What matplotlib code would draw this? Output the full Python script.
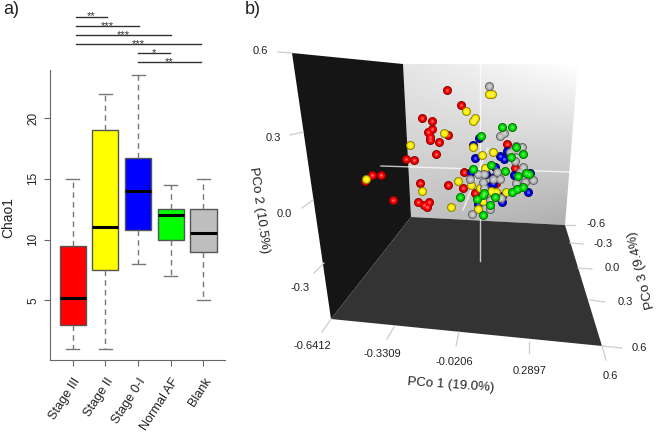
import numpy as np
import matplotlib
matplotlib.use("Agg")
import matplotlib.pyplot as plt
from matplotlib.patches import Polygon

plt.rcParams['font.family'] = ['Liberation Sans', 'DejaVu Sans']

# panel a, boxplot
groups = ["Stage III", "Stage II", "Stage 0-I", "Normal AF", "Blank"]
box_colors = ["#ff0000", "#ffff00", "#0000ff", "#00ff00", "#bebebe"]
whisker_lo = [1, 1, 8, 7, 5]
q1 = [3, 7.5, 10.75, 10, 9]
medians = [5.2, 11, 14, 12, 10.5]
q3 = [9.5, 19, 16.75, 12.5, 12.5]
whisker_hi = [15, 22, 23.5, 14.5, 15]

bracket_x0 = [1.1, 1.1, 1.1, 1.1, 3.0, 3.0]
bracket_x1 = [2.05, 3.03, 4.0, 4.93, 3.97, 4.93]
bracket_y = [28.34, 27.58, 26.8, 26.1, 25.35, 24.6]
bracket_stars = ["**", "***", "***", "***", "*", "**"]

# panel b, points as they sit on the screen (the 3d view is already projected)
red_x = [447, 461, 422, 432, 432, 428, 430, 430, 439, 448, 436, 406, 414, 372, 381, 365, 420, 448, 463, 393, 418, 429, 424, 427, 464, 475, 507, 515, 496]
red_y = [90, 105, 118, 121, 129, 132, 137, 140, 142, 135, 154, 159, 160, 175, 175, 181, 183, 185, 188, 200, 202, 202, 205, 207, 172, 193, 144, 168, 183]
yellow_x = [466, 475, 473, 444, 410, 473, 493, 482, 485, 458, 471, 422, 480, 491, 506, 451, 478, 483, 366, 489, 492, 496]
yellow_y = [111, 118, 121, 133, 145, 147, 152, 155, 168, 181, 185, 191, 188, 191, 192, 207, 209, 201, 179, 94, 94, 192]
green_x = [502, 512, 481, 516, 523, 511, 491, 473, 505, 518, 526, 529, 523, 517, 512, 495, 483, 477, 460, 490, 483, 484]
green_y = [127, 127, 136, 147, 154, 157, 165, 169, 171, 176, 173, 174, 187, 189, 192, 197, 195, 199, 197, 205, 215, 193]
blue_x = [479, 473, 475, 500, 504, 507, 495, 471, 486, 494, 514, 530, 486, 493, 528, 502, 502, 478, 500]
blue_y = [138, 145, 158, 156, 159, 151, 167, 172, 174, 177, 175, 173, 186, 183, 192, 202, 196, 204, 198]
gray_x = [489, 504, 500, 510, 516, 522, 518, 515, 523, 520, 478, 484, 497, 500, 493, 470, 533, 525, 516, 483, 490, 501, 490, 472, 513, 484]
gray_y = [86, 133, 136, 152, 146, 147, 150, 161, 167, 172, 174, 174, 172, 179, 179, 179, 180, 182, 183, 182, 200, 198, 209, 214, 150, 188]

fig = plt.figure(figsize=(6.6, 4.36), dpi=100)
ax = fig.add_axes([49.5 / 660, 76.5 / 436, 175.5 / 660, 289.5 / 436])

stats = []
for i in range(len(groups)):
    stats.append(dict(whislo=whisker_lo[i], q1=q1[i], med=medians[i], q3=q3[i],
                      whishi=whisker_hi[i], fliers=[]))
bp = ax.bxp(stats, positions=range(1, 6), widths=0.8, patch_artist=True, showfliers=False,
            boxprops=dict(edgecolor='#555555', linewidth=1.0),
            medianprops=dict(color='black', linewidth=2.2, solid_capstyle='butt'),
            whiskerprops=dict(color='#777777', linewidth=1.0, linestyle=(0, (4, 3))),
            capprops=dict(color='#777777', linewidth=1.0), capwidths=0.4)
for patch, c in zip(bp['boxes'], box_colors):
    patch.set_facecolor(c)

ax.set_xlim(0.29, 5.66)
ax.set_ylim(0.13, 23.95)
ax.spines['top'].set_visible(False)
ax.spines['right'].set_visible(False)
ax.spines['left'].set_color('#666666')
ax.spines['bottom'].set_color('#666666')
ax.set_yticks([5, 10, 15, 20])
ax.set_xticks(range(1, 6))
ax.set_xticklabels(groups, rotation=57, ha='right', rotation_mode='anchor', fontsize=9.2, color='#222222')
ax.tick_params(axis='x', length=4.5, color='#666666', pad=7)
ax.tick_params(axis='y', length=4.5, color='#666666', labelsize=8.5, labelcolor='#222222', pad=3)
for lab in ax.get_yticklabels():
    lab.set_rotation(90)
    lab.set_va('center')
ax.set_ylabel("Chao1", fontsize=10, color='#222222')
ax.yaxis.set_label_coords(-34.5 / 175.5, 0.49)

for i in range(len(bracket_y)):
    ax.plot([bracket_x0[i], bracket_x1[i]], [bracket_y[i], bracket_y[i]], color='#333333',
            linewidth=1.0, clip_on=False)
    ax.text((bracket_x0[i] + bracket_x1[i]) / 2, bracket_y[i] + 0.02, bracket_stars[i], fontsize=8,
            ha='center', va='center', color='#333333', clip_on=False)

# panel b, drawn in pixel coordinates of the whole figure
sc = fig.add_axes([0, 0, 1, 1], facecolor='none')
sc.axis('off')

back = Polygon([(403, 64), (578, 64), (565, 225), (411, 217)], closed=True, facecolor='none', edgecolor='none')
sc.add_patch(back)
u, v = np.meshgrid(np.linspace(0, 1, 60), np.linspace(0, 1, 60))
shade = 0.9 * (1 - u) * (1 - v) + 1.0 * u * (1 - v) + 0.76 * (1 - u) * v + 0.68 * u * v
img = sc.imshow(shade, cmap='gray', vmin=0, vmax=1, extent=(403, 578, 225, 64), aspect='auto', zorder=1)
img.set_clip_path(back)

sc.add_patch(Polygon([(292, 53), (403, 64), (411, 217), (331, 319)], closed=True, facecolor='#151515', edgecolor='none', zorder=2))
sc.add_patch(Polygon([(331, 319), (411, 217), (565, 225), (602, 346)], closed=True, facecolor='#333333', edgecolor='none', zorder=2))

# crosshair through the origin
for x0, y0, x1, y1 in [(480, 64, 480, 261), (381, 166, 570, 172), (488, 148, 463, 210)]:
    sc.plot([x0, x1], [y0, y1], color='white', alpha=0.75, linewidth=1.0, zorder=3)

# tick stubs outside the box
stubs = [(292, 53, 278, 52), (303, 132, 290, 135), (313, 200, 302, 208), (324, 263, 314, 273),
         (331, 319, 322, 332), (394, 327, 387, 339), (459, 332, 456, 346), (529, 342, 529, 353),
         (602, 346, 606, 360), (602, 346, 622, 348), (590, 300, 605, 302), (578, 268, 592, 269),
         (570, 243, 583, 244), (565, 225, 575, 225)]
for x0, y0, x1, y1 in stubs:
    sc.plot([x0, x1], [y0, y1], color='#cccccc', linewidth=0.9, zorder=2)

tick_text = [("0.6", 260, 51), ("0.3", 273, 138), ("0.0", 284, 214), ("-0.3", 300, 288),
             ("-0.6412", 312, 346), ("-0.3309", 382, 354), ("-0.0206", 454, 362), ("0.2897", 530, 371),
             ("0.6", 610, 376), ("0.6", 639, 348), ("0.3", 625, 302), ("0.0", 612, 268),
             ("-0.3", 603, 244), ("-0.6", 596, 224)]
for s, x, y in tick_text:
    sc.text(x, y, s, fontsize=8, ha='center', va='center', color='#222222')

sc.text(451, 385, "PCo 1 (19.0%)", fontsize=9.5, rotation=-4, ha='center', va='center', color='#222222')
sc.text(259, 210, "PCo 2 (10.5%)", fontsize=9.5, rotation=-82, ha='center', va='center', color='#222222')
sc.text(642, 270, "PCo 3 (9.4%)", fontsize=9.5, rotation=104, ha='center', va='center', color='#222222')

# spheres: dark rim, colour, small highlight
layers = [(red_x, red_y, '#ff0000', '#8a0000'), (blue_x, blue_y, '#0000ee', '#00006a'),
          (yellow_x, yellow_y, '#ffee00', '#8f8600'), (gray_x, gray_y, '#b8b8b8', '#666666'),
          (green_x, green_y, '#00e000', '#007000')]
for k, (px, py, col, rim) in enumerate(layers):
    z = 4 + k
    sc.scatter(px, py, s=42, color=rim, linewidths=0, zorder=z)
    sc.scatter(px, py, s=24, color=col, linewidths=0, zorder=z)
    sc.scatter(px, py, s=4, color='white', alpha=0.4, linewidths=0, zorder=z)

sc.text(3, 10, "a)", fontsize=13, ha='left', va='center', color='#222222')
sc.text(245, 10, "b)", fontsize=13, ha='left', va='center', color='#222222')

sc.set_xlim(0, 660)
sc.set_ylim(436, 0)

fig.savefig("out.png", dpi=100)
